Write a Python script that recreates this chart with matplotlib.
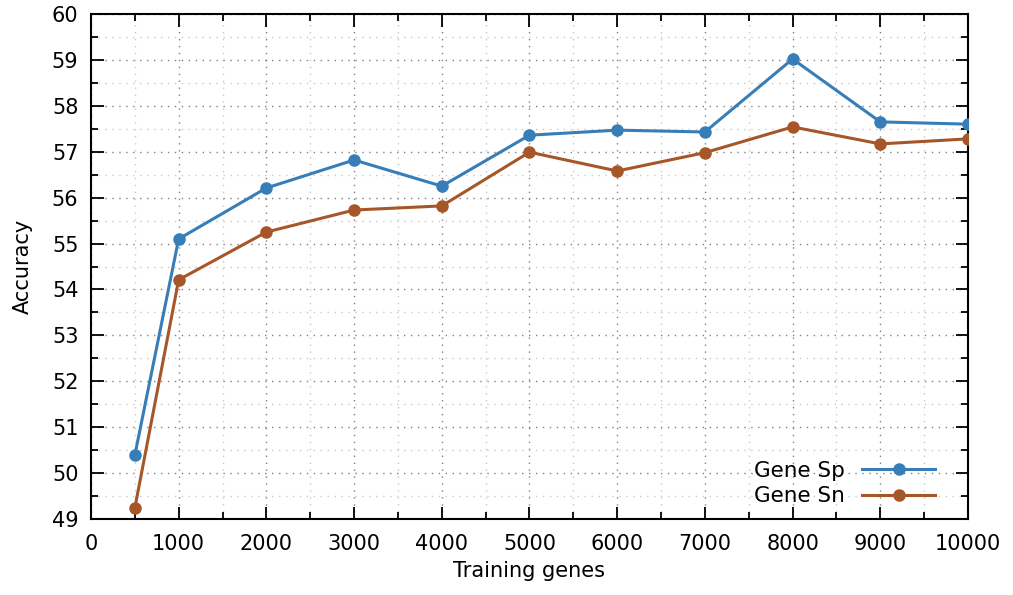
import numpy as np
import matplotlib
matplotlib.use("Agg")
import matplotlib.pyplot as plt
from matplotlib.ticker import MultipleLocator

# data
training_genes = [500, 1000, 2000, 3000, 4000, 5000, 6000, 7000, 8000, 9000, 10000]
gene_sp = [50.39, 55.10, 56.21, 56.82, 56.25, 57.36, 57.47, 57.43, 59.02, 57.65, 57.60]
gene_sn = [49.24, 54.21, 55.25, 55.73, 55.82, 56.99, 56.58, 56.98, 57.54, 57.17, 57.28]

BLUE  = "#377eb8"
BROWN = "#a65628"

fig = plt.figure(figsize=(10.13, 5.95), dpi=100)
ax = fig.add_axes([0.0898, 0.1277, 0.8658, 0.8488])

ax.plot(training_genes, gene_sp, color=BLUE, lw=2.2, marker="o", ms=8, label="Gene Sp", zorder=3)
ax.plot(training_genes, gene_sn, color=BROWN, lw=2.2, marker="o", ms=8, label="Gene Sn", zorder=3)

ax.set_xlim(0, 10000)
ax.set_ylim(49, 60)
ax.xaxis.set_major_locator(MultipleLocator(1000))
ax.xaxis.set_minor_locator(MultipleLocator(500))
ax.yaxis.set_major_locator(MultipleLocator(1))
ax.yaxis.set_minor_locator(MultipleLocator(0.5))

ax.grid(which="major", linestyle=(0, (1, 4)), color="#808080", lw=1)
ax.grid(which="minor", linestyle=(0, (1, 4)), color="#c8c8c8", lw=1)
ax.set_axisbelow(True)

ax.tick_params(which="both", direction="in", top=True, right=True, width=1.3)
ax.tick_params(which="major", length=9, labelsize=15)
ax.tick_params(axis="x", which="major", pad=11)
ax.tick_params(axis="y", which="major", pad=9)
ax.tick_params(which="minor", length=5)
for s in ax.spines.values():
    s.set_linewidth(1.5)

ax.set_xlabel("Training genes", fontsize=15, labelpad=5)
ax.set_ylabel("Accuracy", fontsize=15, labelpad=14)

ax.legend(loc="lower right", frameon=False, markerfirst=False, fontsize=15.5,
          handlelength=3.4, labelspacing=0.25, handletextpad=0.8,
          bbox_to_anchor=(0.985, -0.013))

fig.savefig("out.png", dpi=100)
